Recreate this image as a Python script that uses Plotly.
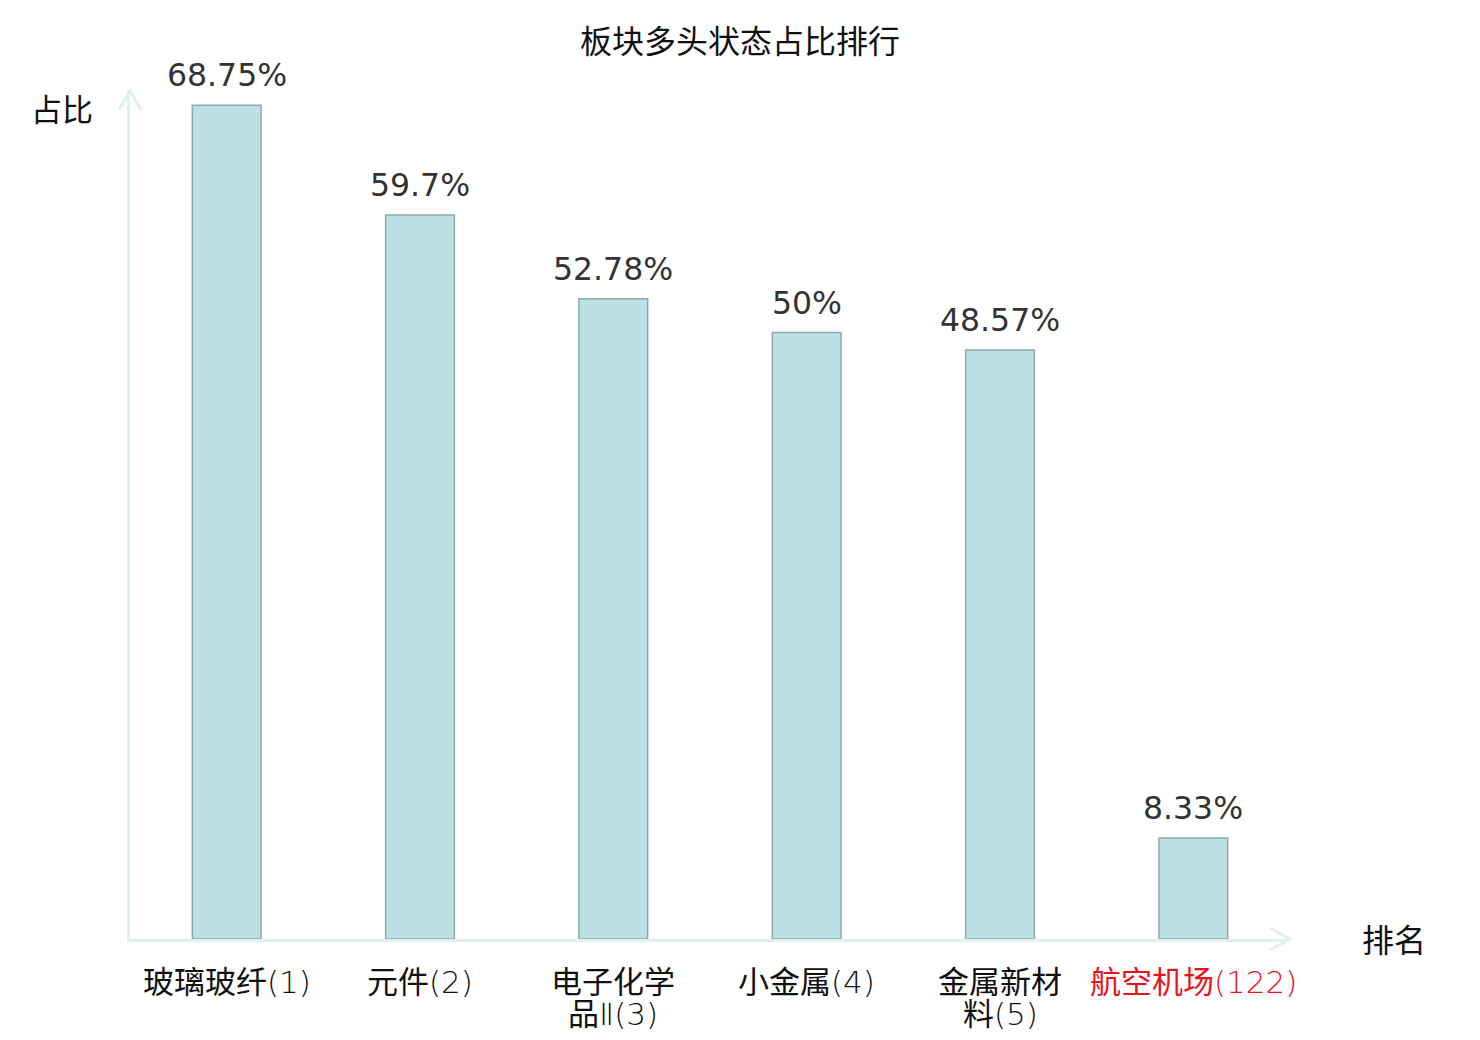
import re
import plotly.graph_objects as go

# chart data
sectors = ["玻璃玻纤(1)", "元件(2)", "电子化学<br>品Ⅱ(3)", "小金属(4)", "金属新材<br>料(5)", "航空机场(122)"]
ratios = [68.75, 59.7, 52.78, 50, 48.57, 8.33]
ratio_labels = ["68.75%", "59.7%", "52.78%", "50%", "48.57%", "8.33%"]
highlight = "航空机场(122)"

font_family = "DejaVu Sans, Noto Sans CJK SC"
axis_color = "#dff1ef"


def thin_latin(text):
    # the non-CJK part of the category labels is drawn in a thin face
    return re.sub(r"([^\u4e00-\u9fff]+)",
                  r"<span style='font-family:DejaVu Sans;font-weight:200'>\1</span>",
                  text)


fig = go.Figure()

fig.add_trace(go.Bar(
    x=sectors,
    y=ratios,
    width=0.355,
    marker=dict(color="#bce0e3", line=dict(color="#8fa9aa", width=1.5)),
    hoverinfo="x+y",
))

fig.update_layout(
    width=1464,
    height=1024,
    margin=dict(l=122, r=182, t=82, b=93),
    plot_bgcolor="white",
    paper_bgcolor="white",
    showlegend=False,
    font=dict(family=font_family, size=31, color="#111111"),
    title=dict(text="板块多头状态占比排行", x=0.5, xanchor="center",
               y=0.967, yanchor="middle", font=dict(size=32, color="#111111")),
)

fig.update_xaxes(
    range=[-0.5, len(sectors) - 0.5],
    showline=True,
    linecolor=axis_color,
    linewidth=3,
    ticks="",
    showticklabels=False,
    showgrid=False,
    fixedrange=True,
)
fig.update_yaxes(
    range=[0, 70],
    showline=True,
    linecolor=axis_color,
    linewidth=3,
    showticklabels=False,
    ticks="",
    showgrid=False,
    zeroline=False,
    fixedrange=True,
)

# value labels above bars
for s, v, lab in zip(sectors, ratios, ratio_labels):
    fig.add_annotation(text=lab, x=s, y=v, xref="x", yref="y",
                       yanchor="bottom", yshift=10, showarrow=False,
                       font=dict(size=31.5, color="#333333", family=font_family))

# category labels under the axis, one annotation per line
for s in sectors:
    color = "#e8141c" if s == highlight else "#111111"
    for i, line in enumerate(s.split("<br>")):
        fig.add_annotation(text=thin_latin(line), x=s, y=0, xref="x", yref="y",
                           yanchor="middle", yshift=-43 - 32 * i, showarrow=False,
                           font=dict(size=31, color=color, family=font_family))

# arrow heads on the axes
fig.add_shape(type="path", xref="paper", yref="paper",
              xsizemode="pixel", ysizemode="pixel", xanchor=1, yanchor=0,
              path="M -20,11 L 0,0 L -20,-11",
              line=dict(color=axis_color, width=3))
fig.add_shape(type="path", xref="paper", yref="paper",
              xsizemode="pixel", ysizemode="pixel", xanchor=0, yanchor=1,
              path="M -11,-20 L 0,0 L 11,-20",
              line=dict(color=axis_color, width=3))

# axis names
fig.add_annotation(text="占比", xref="paper", yref="paper", x=0, y=1,
                   xshift=-35, yshift=-20, xanchor="right", yanchor="middle",
                   showarrow=False, font=dict(size=31, color="#111111"))
fig.add_annotation(text="排名", xref="paper", yref="paper", x=1, y=0,
                   xshift=70, yshift=-2, xanchor="left", yanchor="middle",
                   showarrow=False, font=dict(size=32, color="#111111"))

fig.write_html("out.html")
